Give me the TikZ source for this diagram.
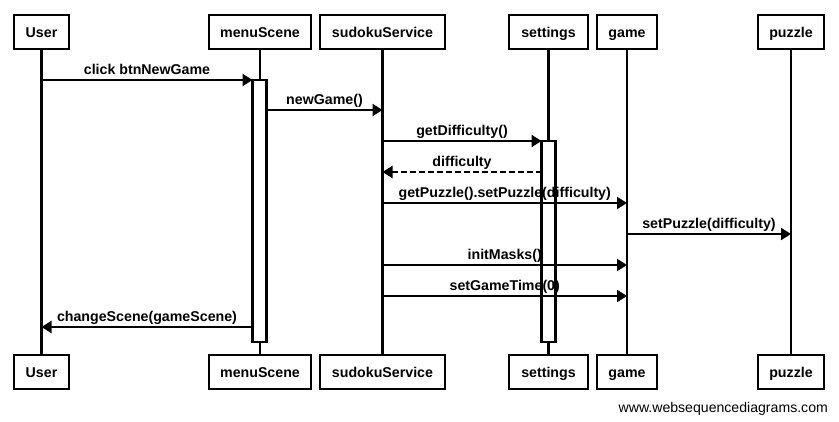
\documentclass[tikz,border=0pt]{standalone}
\usepackage{fontspec}
\setmainfont{Liberation Sans}
\usetikzlibrary{arrows.meta,positioning}

\begin{document}
\begin{tikzpicture}[x=1pt, y=-1pt, line width=2.2pt,
    actor/.style={draw, line width=2.2pt, minimum height=34pt, inner sep=0pt, text height=12pt, text depth=1pt,
      font=\fontsize{14.2}{16}\selectfont\bfseries},
    activ/.style={draw, fill=white, line width=2.2pt},
    msg/.style={-{Triangle[length=10pt, width=12pt]}, line width=2.2pt},
    ret/.style={msg, dash pattern=on 6pt off 3pt},
    lbl/.style={anchor=base, inner sep=0pt, yshift=5pt, font=\fontsize{14.2}{16}\selectfont\bfseries}
  ]
\useasboundingbox (0,0) rectangle (839,422);

% Participants, top and bottom
\foreach \name/\txt/\x/\w in {user/User/41.5/55, menu/menuScene/260/102, svc/sudokuService/382.5/125,
    set/settings/548.5/79, game/game/627/60, puz/puzzle/791/66} {
  \node[actor, minimum width=\w pt] (\name-top) at (\x,32) {\txt};
  \node[actor, minimum width=\w pt] (\name-bot) at (\x,372) {\txt};
  \draw (\name-top) -- (\name-bot);
}

% Activation bars
\draw[activ] (252.5,80) rectangle (266.5,342);
\draw[activ] (541.5,141) rectangle (555.5,342);
\coordinate (menu-l) at (252.5,0);
\coordinate (menu-r) at (266.5,0);
\coordinate (set-l) at (541.5,0);

% Messages
\draw[msg] (user-top |- 0,80) -- node[lbl] {click btnNewGame} (menu-l |- 0,80);
\draw[msg] (menu-r |- 0,110) -- node[lbl] {newGame()} (svc-top |- 0,110);
\draw[msg] (svc-top |- 0,141) -- node[lbl] {getDifficulty()} (set-l |- 0,141);
\draw[ret] (set-l |- 0,172) -- node[lbl] {difficulty} (svc-top |- 0,172);
\draw[msg] (svc-top |- 0,203) -- node[lbl] {getPuzzle().setPuzzle(difficulty)} (game-top |- 0,203);
\draw[msg] (game-top |- 0,234) -- node[lbl] {setPuzzle(difficulty)} (puz-top |- 0,234);
\draw[msg] (svc-top |- 0,265) -- node[lbl] {initMasks()} (game-top |- 0,265);
\draw[msg] (svc-top |- 0,296) -- node[lbl] {setGameTime(0)} (game-top |- 0,296);
\draw[msg] (menu-l |- 0,327) -- node[lbl] {changeScene(gameScene)} (user-top |- 0,327);

% Watermark
\node[anchor=base east, inner sep=0pt, font=\fontsize{14.1}{16}\selectfont] (mark) at (829,412) {www.websequencediagrams.com};

\end{tikzpicture}
\end{document}
